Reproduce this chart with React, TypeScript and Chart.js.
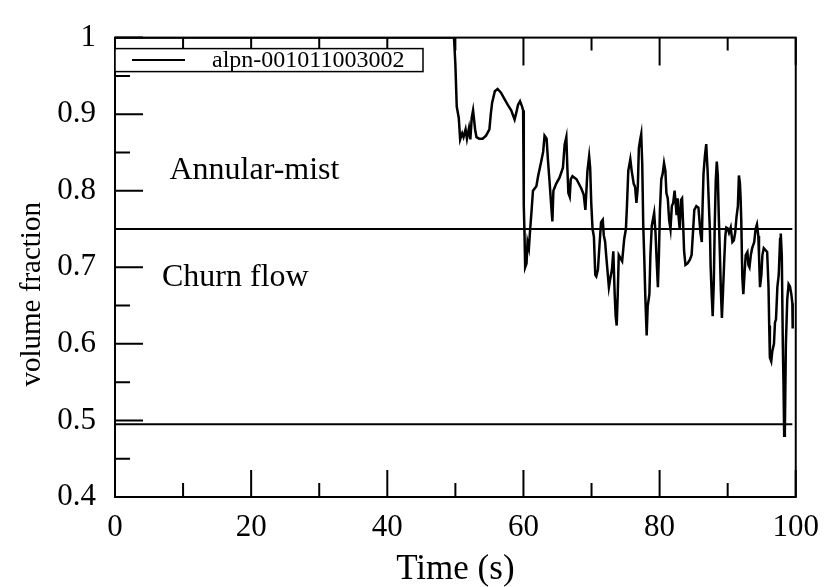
import { useEffect, useRef } from "react";
import { Chart, registerables } from "chart.js";

Chart.register(...registerables);

// ---- data ----
const timeS = [
  0, 49.8, 50.0, 50.2, 50.5, 50.7, 51.0, 51.2, 51.5, 51.7, 52.0, 52.2, 52.4, 52.6, 52.9, 53.1, 53.5, 54.0, 54.5,
  55.0, 55.2, 55.4, 55.8, 56.2, 56.7, 57.2, 57.7, 58.2, 58.7, 58.9, 59.2, 59.5, 59.8, 59.95,
  60.05, 60.15, 60.25, 60.45, 60.6, 60.8, 60.95, 61.2, 61.4, 61.9, 62.15, 62.6, 62.9, 63.1, 63.4, 63.6, 63.85,
  64.1, 64.25, 64.4, 64.8, 65.3, 65.8, 66.05, 66.3, 66.45, 66.6, 66.8, 66.95, 67.2, 67.8, 68.5, 68.85, 69.1,
  69.4, 69.65, 69.8, 69.96, 70.15, 70.35, 70.55, 70.7, 70.94, 71.2, 71.4, 71.65, 71.8, 72.0, 72.15, 72.4,
  72.55, 72.75, 73.0, 73.2, 73.4, 73.55, 73.7, 73.85, 74.0, 74.5, 74.8, 75.05, 75.2, 75.4, 75.7, 75.9, 76.2,
  76.4, 76.6, 76.8, 76.95, 77.15, 77.3, 77.45, 77.6, 77.75, 77.9, 78.1, 78.25, 78.5, 78.65, 78.85, 79.2, 79.4,
  79.55, 79.75, 79.9, 80.05, 80.25, 80.45, 80.65, 80.85, 81.0, 81.2, 81.4, 81.6, 81.8, 82.0, 82.2, 82.35,
  82.5, 82.65, 82.8, 82.95, 83.15, 83.3, 83.5, 83.6, 83.8, 84.1, 84.45, 84.7, 84.9, 85.1, 85.4, 85.7, 85.85,
  86.0, 86.2, 86.3, 86.45, 86.65, 86.85, 87.05, 87.25, 87.4, 87.5, 87.65, 87.8, 87.96, 88.1, 88.25, 88.4,
  88.55, 88.7, 88.85, 89.0, 89.15, 89.3, 89.5, 89.65, 89.8, 90.0, 90.2, 90.45, 90.7, 90.9, 91.1, 91.3, 91.5,
  91.65, 91.8, 91.9, 92.0, 92.15, 92.3, 92.5, 92.65, 92.9, 93.05, 93.2, 93.4, 93.6, 93.9, 94.1, 94.3, 94.5,
  94.6, 94.75, 94.95, 95.1, 95.3, 95.8, 96.0, 96.1, 96.2, 96.4, 96.55, 96.8, 96.95, 97.1, 97.3, 97.5, 97.7,
  97.8, 97.95, 98.1, 98.2, 98.3, 98.4, 98.55, 98.75, 98.95, 99.15, 99.35, 99.5, 99.55,
];
const volFrac = [
  1.0, 1.0, 0.965, 0.91, 0.895, 0.867, 0.875, 0.87, 0.88, 0.868, 0.882, 0.867, 0.895, 0.905, 0.88, 0.87, 0.868, 0.868, 0.872,
  0.88, 0.9, 0.915, 0.93, 0.933, 0.928, 0.92, 0.912, 0.905, 0.893, 0.9, 0.912, 0.917, 0.91, 0.905,
  0.78, 0.746, 0.7, 0.705, 0.733, 0.725, 0.745, 0.775, 0.8, 0.806, 0.819, 0.838, 0.851, 0.872, 0.868, 0.84, 0.81,
  0.778, 0.76, 0.8, 0.809, 0.817, 0.83, 0.86, 0.87, 0.83, 0.797, 0.792, 0.815, 0.819, 0.815, 0.803, 0.795, 0.775,
  0.826, 0.845, 0.83, 0.784, 0.75, 0.74, 0.69, 0.688, 0.697, 0.733, 0.759, 0.762, 0.742, 0.733, 0.716, 0.69,
  0.674, 0.685, 0.697, 0.721, 0.665, 0.636, 0.624, 0.665, 0.716, 0.708, 0.737, 0.75, 0.779, 0.826, 0.841, 0.826, 0.809,
  0.805, 0.784, 0.805, 0.855, 0.867, 0.874, 0.835, 0.754, 0.712, 0.662, 0.611, 0.649, 0.665, 0.716, 0.754, 0.771, 0.745,
  0.712, 0.674, 0.716, 0.775, 0.815, 0.822, 0.836, 0.826, 0.797, 0.79, 0.762, 0.75, 0.78, 0.784, 0.8, 0.785,
  0.768, 0.79, 0.765, 0.75, 0.788, 0.79, 0.746, 0.721, 0.703, 0.705, 0.71, 0.716, 0.745, 0.775, 0.78, 0.778, 0.762,
  0.745, 0.733, 0.775, 0.822, 0.845, 0.861, 0.826, 0.779, 0.745, 0.7, 0.665, 0.636, 0.68, 0.755, 0.813, 0.838,
  0.82, 0.765, 0.72, 0.67, 0.634, 0.665, 0.71, 0.74, 0.752, 0.751, 0.745, 0.752, 0.733, 0.735, 0.745, 0.766, 0.78,
  0.82, 0.81, 0.79, 0.76, 0.687, 0.665, 0.695, 0.716, 0.72, 0.703, 0.7, 0.716, 0.725, 0.733, 0.75, 0.756, 0.741,
  0.716, 0.674, 0.69, 0.716, 0.725, 0.72, 0.674, 0.624, 0.582, 0.577, 0.59, 0.6, 0.628, 0.632, 0.674, 0.69, 0.737,
  0.744, 0.715, 0.6, 0.548, 0.48, 0.485, 0.6, 0.658, 0.678, 0.675, 0.665, 0.653, 0.62,
];
const limitTime = [0, 99.5];
const annularMistLimit = [0.75, 0.75];
const churnFlowLimit = [0.495, 0.495];

const xTickValues = [0, 20, 40, 60, 80, 100];
const xMinorValues = [10, 30, 50, 70, 90];
const yTickValues = [0.4, 0.5, 0.6, 0.7, 0.8, 0.9, 1.0];
const yTickLabels = ["0.4", "0.5", "0.6", "0.7", "0.8", "0.9", "1"];
const yMinorValues = [0.45, 0.55, 0.65, 0.75, 0.85, 0.95];

const seriesLabel = "alpn-001011003002";
const regionLabels = ["Annular-mist", "Churn flow"];
const xTitle = "Time (s)";
const yTitle = "volume fraction";

const SERIF = "'Liberation Serif', 'Times New Roman', serif";

export default function App() {
  const ref = useRef<HTMLCanvasElement | null>(null);

  useEffect(() => {
    const canvas = ref.current;
    if (!canvas) return;

    // where the two region names sit, in data units
    const regionAnchors = [
      { x: 8.0, y: 0.826 },
      { x: 6.9, y: 0.687 },
    ];

    const framePlugin = {
      id: "frameTicks",
      afterDraw(chart: any) {
        const { ctx, chartArea: a, scales } = chart;
        const xs = scales.x;
        const ys = scales.y;
        ctx.save();
        ctx.strokeStyle = "#000";
        ctx.lineWidth = 2;
        ctx.beginPath();
        for (const v of xTickValues) {
          const p = xs.getPixelForValue(v);
          ctx.moveTo(p, a.bottom);
          ctx.lineTo(p, a.bottom - 27);
          ctx.moveTo(p, a.top);
          ctx.lineTo(p, a.top + 28);
        }
        for (const v of xMinorValues) {
          const p = xs.getPixelForValue(v);
          ctx.moveTo(p, a.bottom);
          ctx.lineTo(p, a.bottom - 14);
          ctx.moveTo(p, a.top);
          ctx.lineTo(p, a.top + 13);
        }
        for (const v of yTickValues) {
          const p = ys.getPixelForValue(v);
          ctx.moveTo(a.left, p);
          ctx.lineTo(a.left + 28, p);
        }
        for (const v of yMinorValues) {
          const p = ys.getPixelForValue(v);
          ctx.moveTo(a.left, p);
          ctx.lineTo(a.left + 15, p);
        }
        ctx.stroke();
        ctx.strokeRect(a.left, a.top, a.right - a.left, a.bottom - a.top);

        // legend box
        const bx = a.left;
        const by = a.top + 11;
        const bw = 308;
        const bh = 23;
        ctx.fillStyle = "#fff";
        ctx.fillRect(bx, by, bw, bh);
        ctx.lineWidth = 1.5;
        ctx.strokeRect(bx, by, bw, bh);
        ctx.lineWidth = 2;
        ctx.beginPath();
        ctx.moveTo(bx + 17, by + bh / 2);
        ctx.lineTo(bx + 70, by + bh / 2);
        ctx.stroke();
        ctx.fillStyle = "#000";
        ctx.font = `24px ${SERIF}`;
        ctx.textAlign = "left";
        ctx.textBaseline = "middle";
        ctx.fillText(chart.data.datasets[0].label, bx + 97, by + bh / 2 + 1);

        // region labels
        ctx.font = `32px ${SERIF}`;
        regionLabels.forEach((t, i) => {
          ctx.fillText(t, xs.getPixelForValue(regionAnchors[i].x), ys.getPixelForValue(regionAnchors[i].y));
        });

        // y axis title
        ctx.translate(a.left - 75, (a.top + a.bottom) / 2 + 27);
        ctx.rotate(-Math.PI / 2);
        ctx.textAlign = "center";
        ctx.textBaseline = "alphabetic";
        ctx.font = `29px ${SERIF}`;
        ctx.fillText(yTitle, 0, 0);
        ctx.restore();
      },
    };

    const line = (data: { x: number; y: number }[], label: string, width: number) => ({
      label,
      data,
      borderColor: "#000",
      backgroundColor: "#000",
      borderWidth: width,
      pointRadius: 0,
      fill: false,
      tension: 0,
    });

    const chart = new Chart(canvas, {
      type: "line",
      data: {
        datasets: [
          line(timeS.map((t, i) => ({ x: t, y: volFrac[i] })), seriesLabel, 2.5),
          line(limitTime.map((t, i) => ({ x: t, y: annularMistLimit[i] })), "annular-mist limit", 2),
          line(limitTime.map((t, i) => ({ x: t, y: churnFlowLimit[i] })), "churn flow limit", 2),
        ],
      },
      options: {
        responsive: false,
        maintainAspectRatio: false,
        animation: false,
        layout: { padding: { left: 0, right: 34, top: 22, bottom: 0 } },
        plugins: { legend: { display: false }, tooltip: { enabled: false } },
        scales: {
          x: {
            type: "linear",
            min: 0,
            max: 100,
            grid: { display: false, drawTicks: false },
            border: { display: false },
            afterBuildTicks: (s: any) => {
              s.ticks = xTickValues.map((v) => ({ value: v }));
            },
            afterFit: (s: any) => {
              s.height = 90;
            },
            ticks: {
              color: "#000",
              font: { family: SERIF, size: 31 },
              padding: 12,
              maxRotation: 0,
              autoSkip: false,
              callback: (v: any) => String(v),
            },
            title: {
              display: true,
              text: xTitle,
              color: "#000",
              font: { family: SERIF, size: 35, lineHeight: 1 },
              padding: 0,
            },
          },
          y: {
            type: "linear",
            min: 0.4,
            max: 1.0,
            grid: { display: false, drawTicks: false },
            border: { display: false },
            afterBuildTicks: (s: any) => {
              s.ticks = yTickValues.map((v) => ({ value: v }));
            },
            afterFit: (s: any) => {
              s.width = 115;
            },
            ticks: {
              color: "#000",
              font: { family: SERIF, size: 31 },
              padding: 19,
              autoSkip: false,
              callback: (v: any) => {
                const i = yTickValues.findIndex((t) => Math.abs(t - v) < 1e-6);
                return i >= 0 ? yTickLabels[i] : "";
              },
            },
          },
        },
      },
      plugins: [framePlugin],
    } as any);

    return () => chart.destroy();
  }, []);

  return (
    <div style={{ position: "absolute", left: 0, top: 0, width: 831, height: 587, background: "#fff" }}>
      <canvas ref={ref} width={831} height={587} style={{ width: 831, height: 587, display: "block" }} />
    </div>
  );
}
